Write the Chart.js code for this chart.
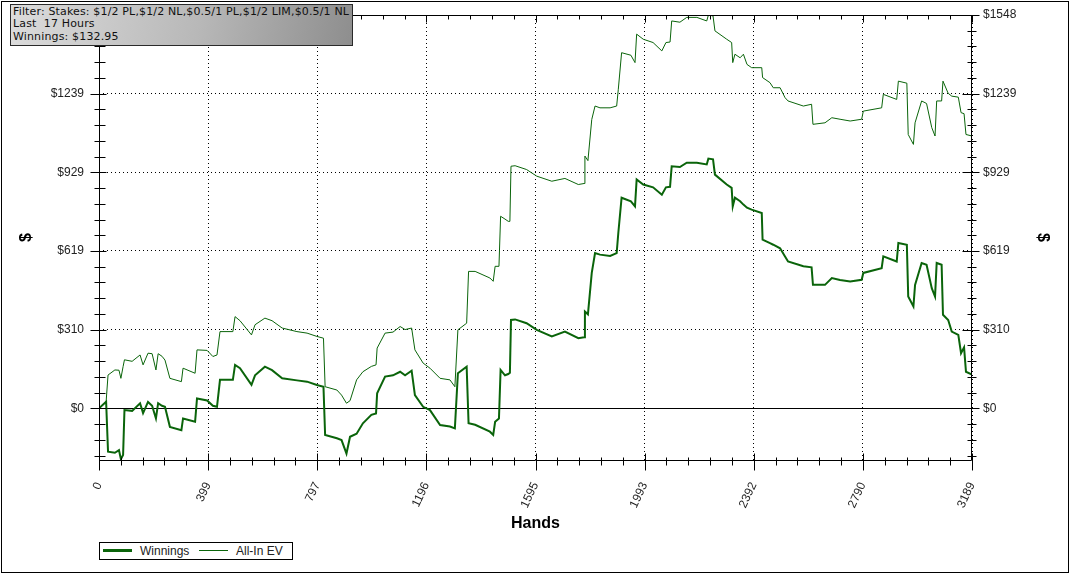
<!DOCTYPE html>
<html>
<head>
<meta charset="utf-8">
<script src="https://cdn.jsdelivr.net/npm/chart.js@4.4.0/dist/chart.umd.min.js"></script>
<style>
  html, body { margin: 0; padding: 0; background: #fff; }
  #wrap { position: relative; width: 1070px; height: 574px; overflow: hidden; }
  #chart { position: absolute; left: 0; top: 0; }
  #filter {
    position: absolute; left: 10px; top: 4px; width: 343px; height: 42px;
    box-sizing: border-box; border: 1px solid #2a2a2a;
    background: linear-gradient(100deg, #dcdcdc 0%, #b8b8b8 55%, #8e8e8e 100%);
    font: 11px 'DejaVu Sans', Verdana, sans-serif; line-height: 12.3px;
    letter-spacing: 0.15px; color: #111; white-space: pre; padding: 1px 0 0 2px;
  }
  #legend {
    position: absolute; left: 99px; top: 542px; width: 194px; height: 18px;
    box-sizing: border-box; border: 1px solid #000; background: #fff;
    font: 12px 'Liberation Sans', Arial, sans-serif; color: #222;
  }
  #legend .sw { position: absolute; background: rgb(10,100,10); }
  #legend .txt { position: absolute; top: 1px; line-height: 15px; }
</style>
</head>
<body>
<div id="wrap">
  <canvas id="chart" width="1070" height="574"></canvas>
  <div id="filter">Filter: Stakes: $1/2 PL,$1/2 NL,$0.5/1 PL,$1/2 LIM,$0.5/1 NL
Last  17 Hours
Winnings: $132.95</div>
  <div id="legend">
    <span class="sw" style="left:3px;top:6px;width:29px;height:2.5px"></span>
    <span class="txt" style="left:40px">Winnings</span>
    <span class="sw" style="left:99px;top:7px;width:29px;height:1px"></span>
    <span class="txt" style="left:136px">All-In EV</span>
  </div>
</div>
<script>
// Hands played (shared x positions for both series)
const HANDS = [
  0, 26, 33, 58, 73, 80, 88, 93, 121, 150, 161, 179, 194, 208, 216, 230, 241, 259,
  301, 307, 351, 358, 395, 416, 431, 442, 489, 497, 515, 557, 570, 606, 632, 669,
  723, 760, 796, 820, 826, 869, 886, 904, 917, 941, 964, 995, 1012, 1016, 1045,
  1074, 1100, 1118, 1142, 1154, 1184, 1209, 1246, 1282, 1300, 1311, 1343, 1350,
  1374, 1428, 1440, 1447, 1461, 1467, 1483, 1495, 1501, 1505, 1520, 1562, 1599,
  1654, 1702, 1751, 1772, 1775, 1786, 1800, 1812, 1830, 1867, 1891, 1897, 1909,
  1943, 1958, 1964, 1988, 2024, 2056, 2071, 2086, 2092, 2122, 2147, 2184, 2220,
  2226, 2243, 2250, 2293, 2311, 2315, 2323, 2342, 2354, 2367, 2384, 2421, 2424,
  2451, 2463, 2488, 2506, 2517, 2573, 2603, 2608, 2652, 2677, 2707, 2744, 2786,
  2792, 2859, 2865, 2914, 2920, 2951, 2956, 2975, 2981, 3005, 3023, 3042, 3054,
  3060, 3078, 3083, 3102, 3115, 3139, 3149, 3160, 3167, 3189
];

// Winnings ($)
const WINNINGS = [
  0, 26, -171, -175, -165, -200, -184, -7, -10, 20, -19, 25, 10, -40, 20, 10, 6, -73,
  -86, -40, -53, 39, 31, 10, 6, 112, 112, 171, 158, 92, 130, 164, 150, 118,
  110, 105, 92, 85, -105, -118, -125, -178, -112, -100, -59, -26, -20, 59, 125,
  130, 144, 130, 148, 52, 6, -7, -66, -72, -79, 138, 164, -59,
  -65, -92, -105, -53, -40, 151, 130, 135, 140, 348, 350, 335, 309,
  283, 302, 276, 280, 381, 370, 533, 611, 605, 600, 611, 690, 829,
  815, 795, 901, 881, 870, 841, 870, 872, 953, 950, 967, 967, 960,
  983, 980, 920, 881, 868, 795, 829, 815, 802, 790, 782, 769, 664,
  650, 644, 630, 598, 578, 559, 555, 486, 486, 513, 505, 499, 506,
  533, 552, 598, 578, 651, 644, 440, 401, 486, 572, 565, 473, 440,
  572, 565, 368, 348, 302, 289, 217, 240, 144, 133
];

// All-In EV ($)
const ALLIN_EV = [
  0, 26, 131, 151, 150, 118, 164, 191, 185, 210, 171, 217, 215, 151, 215, 205, 190, 118,
  105, 158, 138, 230, 228, 204, 210, 302, 302, 361, 345, 289, 329, 355, 345, 316,
  302, 296, 283, 276, 85, 72, 52, 20, 30, 112, 144, 165, 171, 237, 296,
  300, 322, 310, 316, 230, 178, 158, 118, 112, 85, 309, 335, 539,
  539, 513, 500, 559, 559, 756, 745, 736, 736, 953, 955, 940, 914,
  894, 905, 881, 885, 993, 975, 1137, 1190, 1183, 1183, 1190, 1256, 1400,
  1390, 1361, 1473, 1453, 1440, 1407, 1440, 1442, 1525, 1520, 1539, 1539, 1525,
  1548, 1545, 1486, 1453, 1440, 1361, 1394, 1380, 1394, 1354, 1341, 1341, 1302,
  1282, 1262, 1262, 1223, 1210, 1190, 1197, 1118, 1124, 1144, 1138, 1131, 1138,
  1170, 1183, 1236, 1216, 1288, 1280, 1078, 1039, 1124, 1210, 1200, 1105, 1072,
  1210, 1210, 1288, 1240, 1229, 1225, 1164, 1160, 1078, 1072
];

// Axis ranges: labels $0..$1548 in 5 steps, hands 0..3189 in 8 steps
const Y_MAX = 1548.4;
const Y_MIN = -203.5;
const Y_STEP = Y_MAX / 25;   // minor tick step, every 5th is labelled
const X_MAX = 3189;
const X_STEP = X_MAX / 40;

const GREEN = 'rgb(10,100,10)';
const FONT = "'Liberation Sans', Arial, sans-serif";
const CLEAR = 'rgba(0,0,0,0)';

Chart.defaults.font.family = FONT;

const yIndex = v => Math.round(v / Y_STEP);
const isMajorY = v => yIndex(v) % 5 === 0;

function buildYTicks(scale) {
  const ticks = [];
  for (let k = -3; k <= 25; k++) ticks.push({ value: k * Y_STEP });
  scale.ticks = ticks;
}

function buildXTicks(scale) {
  const ticks = [];
  for (let i = 0; i <= 40; i++) ticks.push({ value: i * X_STEP });
  scale.ticks = ticks;
}

/**
 * Frame, tick marks and zero line, placed through the chart's scales
 */
const framePlugin = {
  id: 'frame',
  beforeDatasetsDraw(chart) {
    const { ctx, chartArea: a, scales } = chart;
    const y0 = Math.round(scales.y.getPixelForValue(0)) + 0.5;
    ctx.save();
    ctx.strokeStyle = '#000';
    ctx.lineWidth = 1;
    ctx.beginPath();
    ctx.moveTo(Math.round(a.left) - 8, y0);
    ctx.lineTo(Math.round(a.right) + 6, y0);
    ctx.stroke();
    ctx.restore();
  },
  afterDraw(chart) {
    const { ctx, chartArea: a, scales } = chart;
    const L = Math.round(a.left) + 0.5;
    const R = Math.round(a.right) - 0.5;
    const T = Math.round(a.top) + 0.5;
    const B = Math.round(a.bottom) + 0.5;
    ctx.save();
    ctx.strokeStyle = '#000';
    ctx.lineWidth = 1;
    const seg = (x1, y1, x2, y2) => {
      ctx.beginPath();
      ctx.moveTo(x1, y1);
      ctx.lineTo(x2, y2);
      ctx.stroke();
    };
    // plot box
    seg(L, T, R + 1, T);
    seg(L, T, L, B);
    seg(R, T, R, B);
    seg(L, B, R, B);

    // x tick marks, bottom and top
    scales.x.ticks.forEach((t, i) => {
      const px = Math.round(scales.x.getPixelForValue(t.value)) + 0.5;
      const major = i % 5 === 0;
      seg(px, major ? B - 7 : B - 3, px, major ? B + 10 : B + 5);
      seg(px, T, px, major ? T + 7 : T + 4);
    });

    // y tick marks, left and right
    scales.y.ticks.forEach(t => {
      const py = Math.round(scales.y.getPixelForValue(t.value)) + 0.5;
      const major = isMajorY(t.value);
      seg(major ? L - 9 : L - 5, py, major ? L + 7 : L + 6, py);
      seg(major ? R - 9 : R - 4, py, major ? R + 8 : R + 5, py);
    });

    // outer picture border
    ctx.strokeRect(1.5, 1.5, 1067, 571);
    ctx.restore();
  }
};

const yLabel = v => isMajorY(v) ? '$' + Math.round(v) : '';

function toPoints(values) {
  return HANDS.map((h, i) => ({ x: h, y: values[i] }));
}

new Chart(document.getElementById('chart').getContext('2d'), {
  type: 'line',
  data: {
    datasets: [
      {
        label: 'Winnings',
        data: toPoints(WINNINGS),
        borderColor: GREEN,
        borderWidth: 2,
        pointRadius: 0,
        tension: 0,
        fill: false
      },
      {
        label: 'All-In EV',
        data: toPoints(ALLIN_EV),
        borderColor: GREEN,
        borderWidth: 1,
        pointRadius: 0,
        tension: 0,
        fill: false
      }
    ]
  },
  options: {
    responsive: false,
    animation: false,
    layout: { padding: { top: 15, left: 0, right: 0, bottom: 0 } },
    plugins: {
      legend: { display: false },
      tooltip: { enabled: false }
    },
    scales: {
      x: {
        type: 'linear',
        min: 0,
        max: X_MAX,
        afterBuildTicks: buildXTicks,
        afterFit: s => { s.height = 114; },
        border: { display: false, dash: [1, 3] },
        grid: {
          drawTicks: false,
          color: c => (c.index % 5 === 0) ? '#000' : CLEAR
        },
        ticks: {
          autoSkip: false,
          minRotation: 65,
          maxRotation: 65,
          padding: 20,
          color: '#222',
          font: { size: 12 },
          callback: (v, i) => i % 5 === 0 ? String(Math.round(v)) : ''
        },
        title: {
          display: true,
          text: 'Hands',
          color: '#000',
          font: { size: 16, weight: 'bold' },
          padding: { top: 0, bottom: 41 }
        }
      },
      y: {
        type: 'linear',
        position: 'left',
        min: Y_MIN,
        max: Y_MAX,
        afterBuildTicks: buildYTicks,
        afterFit: s => { s.width = 99; },
        border: { display: false, dash: [1, 3] },
        grid: {
          drawTicks: true,
          tickLength: 15,
          tickColor: CLEAR,
          color: c => (c.tick && isMajorY(c.tick.value) && yIndex(c.tick.value) !== 0) ? '#000' : CLEAR
        },
        ticks: {
          autoSkip: false,
          padding: 0,
          color: '#222',
          font: { size: 12 },
          callback: yLabel
        },
        title: {
          display: true,
          text: '$',
          color: '#000',
          font: { size: 16, weight: 'bold' },
          padding: { top: 17, bottom: 0 }
        }
      },
      y2: {
        type: 'linear',
        position: 'right',
        min: Y_MIN,
        max: Y_MAX,
        afterBuildTicks: buildYTicks,
        afterFit: s => { s.width = 98; },
        border: { display: false },
        grid: {
          drawOnChartArea: false,
          drawTicks: true,
          tickLength: 11,
          tickColor: CLEAR,
          color: CLEAR
        },
        ticks: {
          autoSkip: false,
          padding: 0,
          color: '#222',
          font: { size: 12 },
          callback: yLabel
        },
        title: {
          display: true,
          text: '$',
          color: '#000',
          font: { size: 16, weight: 'bold' },
          padding: { top: 18, bottom: 0 }
        }
      }
    }
  },
  plugins: [framePlugin]
});
</script>
</body>
</html>
